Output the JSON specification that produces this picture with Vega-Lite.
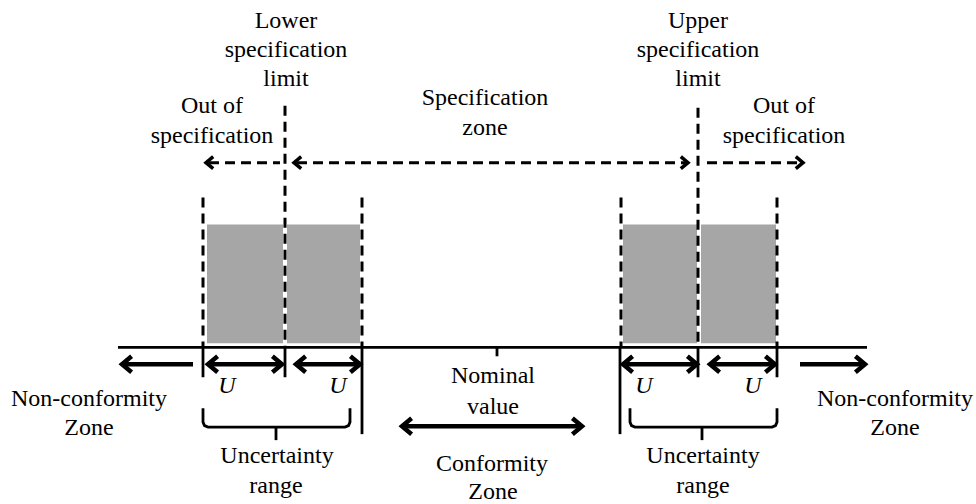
{
  "$schema": "https://vega.github.io/schema/vega-lite/v6.json",
  "width": 976,
  "height": 504,
  "padding": 0,
  "autosize": {"type": "fit", "contains": "padding"},
  "background": "white",
  "config": {"view": {"stroke": null}, "font": "'Liberation Serif', 'Times New Roman', serif"},
  "datasets": {
    "boxes": [
      {"x": 207, "x2": 283, "y": 225, "y2": 344},
      {"x": 287, "x2": 360, "y": 225, "y2": 344},
      {"x": 623, "x2": 697, "y": 225, "y2": 344},
      {"x": 701, "x2": 776, "y": 225, "y2": 344}
    ],
    "solid": [
      {"x": 118, "y": 348, "x2": 867, "y2": 348},
      {"x": 203, "y": 348, "x2": 203, "y2": 378},
      {"x": 285, "y": 348, "x2": 285, "y2": 378},
      {"x": 362, "y": 348, "x2": 362, "y2": 435},
      {"x": 620, "y": 348, "x2": 620, "y2": 435},
      {"x": 698, "y": 348, "x2": 698, "y2": 378},
      {"x": 777, "y": 348, "x2": 777, "y2": 378},
      {"x": 497, "y": 348, "x2": 497, "y2": 357},
      {"x": 276, "y": 428, "x2": 276, "y2": 441},
      {"x": 702, "y": 428, "x2": 702, "y2": 441}
    ],
    "shafts": [
      {"x": 125, "y": 365, "x2": 193, "y2": 365},
      {"x": 210, "y": 365, "x2": 280, "y2": 365},
      {"x": 298, "y": 365, "x2": 358, "y2": 365},
      {"x": 625, "y": 365, "x2": 695, "y2": 365},
      {"x": 712, "y": 365, "x2": 773, "y2": 365},
      {"x": 800, "y": 365, "x2": 862, "y2": 365},
      {"x": 404, "y": 427, "x2": 580, "y2": 427}
    ],
    "dashed": [
      {"x": 203, "y": 198, "x2": 203, "y2": 348},
      {"x": 362, "y": 198, "x2": 362, "y2": 348},
      {"x": 621, "y": 198, "x2": 621, "y2": 348},
      {"x": 777, "y": 198, "x2": 777, "y2": 348},
      {"x": 285, "y": 106, "x2": 285, "y2": 348},
      {"x": 698, "y": 108, "x2": 698, "y2": 348},
      {"x": 209, "y": 163, "x2": 280, "y2": 163},
      {"x": 297, "y": 163, "x2": 686, "y2": 163},
      {"x": 707, "y": 163, "x2": 800, "y2": 163}
    ],
    "heads": [
      {"x": 122, "y": 365, "dir": "left"},
      {"x": 208, "y": 365, "dir": "left"},
      {"x": 282, "y": 365, "dir": "right"},
      {"x": 296, "y": 365, "dir": "left"},
      {"x": 360, "y": 365, "dir": "right"},
      {"x": 623, "y": 365, "dir": "left"},
      {"x": 697, "y": 365, "dir": "right"},
      {"x": 710, "y": 365, "dir": "left"},
      {"x": 775, "y": 365, "dir": "right"},
      {"x": 865, "y": 365, "dir": "right"},
      {"x": 402, "y": 427, "dir": "left"},
      {"x": 582, "y": 427, "dir": "right"}
    ],
    "dheads": [
      {"x": 206, "y": 163, "dir": "left"},
      {"x": 294, "y": 163, "dir": "left"},
      {"x": 688, "y": 163, "dir": "right"},
      {"x": 803, "y": 163, "dir": "right"}
    ],
    "braces": [
      {"b": "L", "o": 1, "x": 203, "y": 409},
      {"b": "L", "o": 2, "x": 203, "y": 423},
      {"b": "L", "o": 3, "x": 204.5, "y": 426.5},
      {"b": "L", "o": 4, "x": 208, "y": 428},
      {"b": "L", "o": 5, "x": 345, "y": 428},
      {"b": "L", "o": 6, "x": 348.5, "y": 426.5},
      {"b": "L", "o": 7, "x": 350, "y": 423},
      {"b": "L", "o": 8, "x": 350, "y": 409},
      {"b": "R", "o": 1, "x": 630, "y": 409},
      {"b": "R", "o": 2, "x": 630, "y": 423},
      {"b": "R", "o": 3, "x": 631.5, "y": 426.5},
      {"b": "R", "o": 4, "x": 635, "y": 428},
      {"b": "R", "o": 5, "x": 772, "y": 428},
      {"b": "R", "o": 6, "x": 775.5, "y": 426.5},
      {"b": "R", "o": 7, "x": 777, "y": 423},
      {"b": "R", "o": 8, "x": 777, "y": 409}
    ],
    "labels": [
      {"x": 286, "y": 21, "t": "Lower"},
      {"x": 286, "y": 50, "t": "specification"},
      {"x": 286, "y": 79, "t": "limit"},
      {"x": 698, "y": 21, "t": "Upper"},
      {"x": 698, "y": 50, "t": "specification"},
      {"x": 698, "y": 79, "t": "limit"},
      {"x": 212, "y": 106, "t": "Out of"},
      {"x": 212, "y": 136, "t": "specification"},
      {"x": 485, "y": 98, "t": "Specification"},
      {"x": 485, "y": 128, "t": "zone"},
      {"x": 784, "y": 106, "t": "Out of"},
      {"x": 784, "y": 136, "t": "specification"},
      {"x": 89, "y": 400, "t": "Non-conformity"},
      {"x": 89, "y": 429, "t": "Zone"},
      {"x": 895, "y": 400, "t": "Non-conformity"},
      {"x": 895, "y": 429, "t": "Zone"},
      {"x": 493, "y": 377, "t": "Nominal"},
      {"x": 493, "y": 408, "t": "value"},
      {"x": 492, "y": 465, "t": "Conformity"},
      {"x": 493, "y": 493, "t": "Zone"},
      {"x": 277, "y": 457, "t": "Uncertainty"},
      {"x": 276, "y": 487, "t": "range"},
      {"x": 703, "y": 457, "t": "Uncertainty"},
      {"x": 703, "y": 487, "t": "range"}
    ],
    "ulabels": [
      {"x": 227, "y": 387, "t": "U"},
      {"x": 338, "y": 387, "t": "U"},
      {"x": 644, "y": 387, "t": "U"},
      {"x": 753, "y": 387, "t": "U"}
    ]
  },
  "layer": [
    {
      "data": {"name": "boxes"},
      "mark": {"type": "rect", "color": "#a6a6a6"},
      "encoding": {
        "x": {"field": "x", "type": "quantitative", "scale": {"domain": [0, 976], "nice": false, "zero": false}, "axis": null},
        "x2": {"field": "x2"},
        "y": {"field": "y", "type": "quantitative", "scale": {"domain": [0, 504], "nice": false, "zero": false, "reverse": true}, "axis": null},
        "y2": {"field": "y2"}
      }
    },
    {
      "data": {"name": "solid"},
      "mark": {"type": "rule", "color": "black", "strokeWidth": 2.8},
      "encoding": {
        "x": {"field": "x", "type": "quantitative", "axis": null},
        "x2": {"field": "x2"},
        "y": {"field": "y", "type": "quantitative", "axis": null},
        "y2": {"field": "y2"}
      }
    },
    {
      "data": {"name": "shafts"},
      "mark": {"type": "rule", "color": "black", "strokeWidth": 4.5},
      "encoding": {
        "x": {"field": "x", "type": "quantitative", "axis": null},
        "x2": {"field": "x2"},
        "y": {"field": "y", "type": "quantitative", "axis": null},
        "y2": {"field": "y2"}
      }
    },
    {
      "data": {"name": "dashed"},
      "mark": {"type": "rule", "color": "black", "strokeWidth": 3, "strokeDash": [10, 6]},
      "encoding": {
        "x": {"field": "x", "type": "quantitative", "axis": null},
        "x2": {"field": "x2"},
        "y": {"field": "y", "type": "quantitative", "axis": null},
        "y2": {"field": "y2"}
      }
    },
    {
      "data": {"name": "heads"},
      "mark": {"type": "point", "filled": false, "color": "black", "strokeWidth": 4.5, "opacity": 1, "size": 256, "strokeJoin": "miter", "strokeCap": "butt"},
      "encoding": {
        "x": {"field": "x", "type": "quantitative", "axis": null},
        "y": {"field": "y", "type": "quantitative", "axis": null},
        "shape": {"field": "dir", "type": "nominal", "legend": null, "scale": {"domain": ["left", "right"], "range": ["M 1.2 -1 L 0 0 L 1.2 1", "M -1.2 -1 L 0 0 L -1.2 1"]}}
      }
    },
    {
      "data": {"name": "dheads"},
      "mark": {"type": "point", "filled": false, "color": "black", "strokeWidth": 3.5, "opacity": 1, "size": 144, "strokeJoin": "miter", "strokeCap": "butt"},
      "encoding": {
        "x": {"field": "x", "type": "quantitative", "axis": null},
        "y": {"field": "y", "type": "quantitative", "axis": null},
        "shape": {"field": "dir", "type": "nominal", "legend": null, "scale": {"domain": ["left", "right"], "range": ["M 1.1 -1 L 0 0 L 1.1 1", "M -1.1 -1 L 0 0 L -1.1 1"]}}
      }
    },
    {
      "data": {"name": "braces"},
      "mark": {"type": "line", "color": "black", "strokeWidth": 2.8},
      "encoding": {
        "x": {"field": "x", "type": "quantitative", "axis": null},
        "y": {"field": "y", "type": "quantitative", "axis": null},
        "detail": {"field": "b", "type": "nominal"},
        "order": {"field": "o", "type": "quantitative"}
      }
    },
    {
      "data": {"name": "labels"},
      "mark": {"type": "text", "font": "'Liberation Serif', 'Times New Roman', serif", "fontSize": 24, "color": "black", "align": "center", "baseline": "middle"},
      "encoding": {
        "x": {"field": "x", "type": "quantitative", "axis": null},
        "y": {"field": "y", "type": "quantitative", "axis": null},
        "text": {"field": "t", "type": "nominal"}
      }
    },
    {
      "data": {"name": "ulabels"},
      "mark": {"type": "text", "font": "'Liberation Serif', 'Times New Roman', serif", "fontSize": 24, "fontStyle": "italic", "color": "black", "align": "center", "baseline": "middle"},
      "encoding": {
        "x": {"field": "x", "type": "quantitative", "axis": null},
        "y": {"field": "y", "type": "quantitative", "axis": null},
        "text": {"field": "t", "type": "nominal"}
      }
    }
  ]
}
